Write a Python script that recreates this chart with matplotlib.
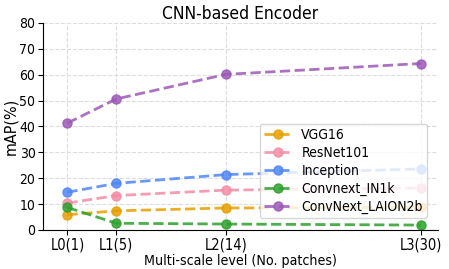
import matplotlib
matplotlib.use("Agg")
import matplotlib.pyplot as plt

patches = [1, 5, 14, 30]
tick_labels = ["L0(1)", "L1(5)", "L2(14)", "L3(30)"]

vgg16 = [5.9, 7.4, 8.5, 8.7]
resnet101 = [10.4, 13.3, 15.4, 16.2]
inception = [14.6, 18.0, 21.4, 23.6]
convnext_in1k = [8.7, 2.6, 2.3, 1.9]
convnext_laion = [41.3, 50.6, 60.1, 64.3]

series = [
    ("VGG16", vgg16, "#e69f00"),
    ("ResNet101", resnet101, "#f48ca4"),
    ("Inception", inception, "#4f86f7"),
    ("Convnext_IN1k", convnext_in1k, "#2ca02c"),
    ("ConvNext_LAION2b", convnext_laion, "#9b59b6"),
]

# the reference text looks horizontally squeezed
plt.rcParams["font.stretch"] = "condensed"

fig, ax = plt.subplots(figsize=(4.49, 2.69), dpi=100)
for name, vals, col in series:
    ax.plot(patches, vals, "--o", color=col, lw=2, ms=6.5, alpha=0.85, label=name)

ax.set_xticks(patches)
ax.set_xticklabels(tick_labels, fontsize=10.5)
ax.set_ylim(0, 80)
ax.set_yticks(range(0, 81, 10))
ax.tick_params(axis="y", labelsize=10, pad=2)
ax.tick_params(axis="x", pad=2)
ax.set_xlim(-1.0, 31.4)
ax.grid(True, ls="--", color="#dddddd", lw=0.8)
ax.spines["top"].set_visible(False)
ax.spines["right"].set_visible(False)
ax.set_title("CNN-based Encoder", fontsize=12.5, pad=3)
ax.set_ylabel("mAP(%)", fontsize=11.5)
ax.yaxis.set_label_coords(-0.062, 0.5)
ax.set_xlabel("Multi-scale level (No. patches)", fontsize=10.2, labelpad=1)
ax.legend(loc="lower right", fontsize=10, handlelength=2.0, labelspacing=0.28,
          borderpad=0.3, handletextpad=0.7, framealpha=0.8,
          bbox_to_anchor=(0.99, 0.025))

fig.subplots_adjust(left=0.096, right=0.975, top=0.915, bottom=0.145)
fig.savefig("out.png", dpi=100)
